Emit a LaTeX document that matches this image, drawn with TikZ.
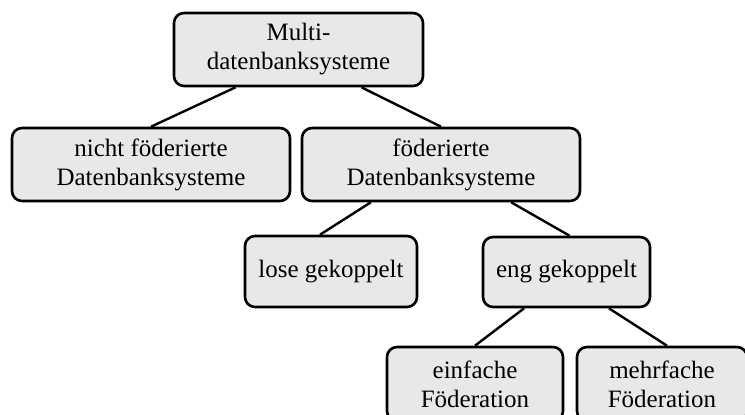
\documentclass[tikz,border=0pt]{standalone}
\usepackage{fontspec}
\setmainfont{Liberation Serif}
\usetikzlibrary{calc}
\begin{document}
\begin{tikzpicture}[x=1pt,y=-1pt,
  box/.style={draw=black, line width=2.6pt, rounded corners=10pt, fill=boxgray,
    align=center, inner sep=0pt,
    font=\fontsize{25}{29}\selectfont},
  link/.style={draw=black, line width=2.4pt}]
  \definecolor{boxgray}{HTML}{E8E8E8}
  \useasboundingbox (0,0) rectangle (745,415);
  \clip (0,0) rectangle (745,415);

  % hierarchy nodes
  \node[box, minimum width=249pt, minimum height=73pt] (root) at (298.5,49.5)
    {Multi-\\datenbanksysteme};
  \node[box, minimum width=278pt, minimum height=73pt] (nfed) at (151,164.5)
    {nicht föderierte\\Datenbanksysteme};
  \node[box, minimum width=278pt, minimum height=73pt] (fed) at (441,164.5)
    {föderierte\\Datenbanksysteme};
  \node[box, minimum width=172pt, minimum height=71pt] (lose) at (331,271.5)
    {lose gekoppelt};
  \node[box, minimum width=167pt, minimum height=70pt] (eng) at (566.5,272)
    {eng gekoppelt};
  \node[box, minimum width=176pt, minimum height=74pt] (einf) at (475,384)
    {einfache\\Föderation};
  \node[box, minimum width=170pt, minimum height=74pt] (mehr) at (662,384)
    {mehrfache\\Föderation};

  % connectors
  \draw[link] ($(root.south west)!0.25!(root.south east)$) -- (nfed.north);
  \draw[link] ($(root.south west)!0.75!(root.south east)$) -- (fed.north);
  \draw[link] ($(fed.south west)!0.25!(fed.south east)$) -- ([xshift=-11pt]lose.north);
  \draw[link] ($(fed.south west)!0.75!(fed.south east)$) -- ([xshift=3pt]eng.north);
  \draw[link] ($(eng.south west)!0.25!(eng.south east)$) -- (einf.north);
  \draw[link] ($(eng.south west)!0.75!(eng.south east)$) -- ([xshift=5pt]mehr.north);
\end{tikzpicture}
\end{document}
